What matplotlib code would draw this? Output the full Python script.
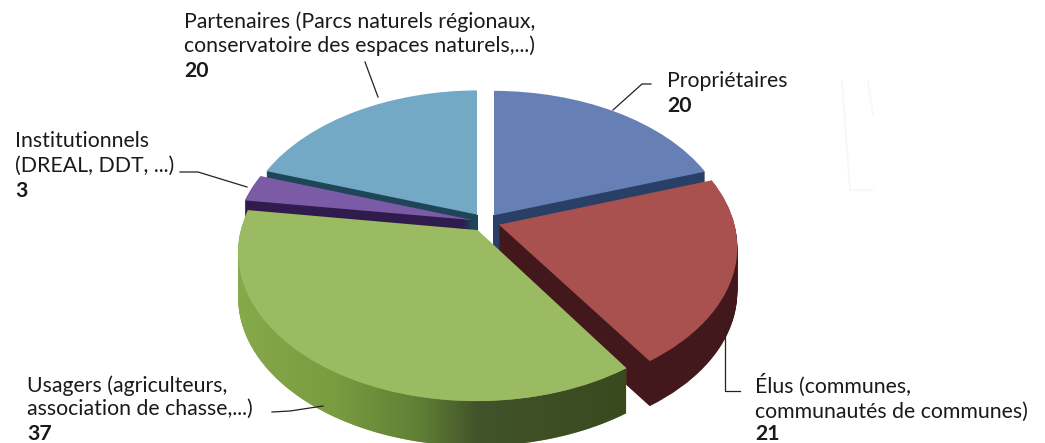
import numpy as np
import matplotlib
matplotlib.use("Agg")
import matplotlib.pyplot as plt
from matplotlib.colors import LinearSegmentedColormap
from matplotlib.patches import Polygon, Rectangle
from matplotlib.transforms import Affine2D, Transform

# slices, clockwise from 12 o'clock
values = [20, 21, 37, 3, 20]
explode = [0.058, 0.058, 0.066, 0.06, 0.063]
top_colors = ["#6680b6", "#a8514f", "#9bbb62", "#7b5aa6", "#73a9c4"]
wall_colors = ["#2a3f66", "#43181c", "#86a94a", "#2f1c4d", "#1f4558"]
draw_order = [0, 3, 4, 2, 1]  # zorder per slice, back to front-ish

CX, CY = 486, 222
DEPTH = 45


class Persp(Transform):
    # tilted disc seen in perspective, the front gets bigger than the back
    input_dims = output_dims = 2
    is_separable = False

    def transform_non_affine(self, values):
        v = np.asarray(values, dtype=float)
        w = 1 + 0.1429 * v[:, 1]
        return np.column_stack([235 * v[:, 0] / w, -144 * v[:, 1] / w])


plt.rcParams["font.family"] = ["Lato", "DejaVu Sans"]
fig = plt.figure(figsize=(10.45, 4.43), dpi=100)
ax = fig.add_axes([0, 0, 1, 1])


def to_pixels(depth=0):
    return Persp() + Affine2D().translate(CX, CY + depth)


# side wall is a stack of pies, then the top surface
for depth in range(DEPTH, -1, -1):
    colors = top_colors if depth == 0 else wall_colors
    wedges, _ = ax.pie(values, explode=explode, colors=colors, startangle=90,
                       counterclock=False, radius=1)
    for i, w in enumerate(wedges):
        w.set_transform(to_pixels(depth) + ax.transData)
        w.set_zorder(draw_order[i] + (0.5 if depth == 0 else 0))

ax.set_aspect("auto")
ax.set_axis_off()

# keep the white gap at 12 o'clock clean, both edges straight up
blue_apex = to_pixels().transform([wedges[0].center])[0]
lightblue_apex = to_pixels().transform([wedges[4].center])[0]
gap_bottom = min(blue_apex[1], lightblue_apex[1])
ax.add_patch(Rectangle((lightblue_apex[0], 80), blue_apex[0] - lightblue_apex[0], gap_bottom - 80,
                       facecolor="white", edgecolor="none", zorder=5.5))

# green wall goes from light on the left to dark on the right
g = wedges[2]
theta = np.radians(np.linspace(-180, g.theta2 if g.theta2 < 0 else g.theta2 - 360, 80))
arc = np.column_stack([g.center[0] + np.cos(theta), g.center[1] + np.sin(theta)])
arc_top = to_pixels().transform(arc)
wall_poly = np.vstack([arc_top, arc_top[::-1] + [0, DEPTH]])
cmap = LinearSegmentedColormap.from_list(
    "wall", [(0, "#86a94a"), (0.25, "#7a9b40"), (0.47, "#5f7f35"), (0.62, "#41532a"), (1, "#3a4a1f")])
im = ax.imshow(np.linspace(0, 1, 256)[None, :], cmap=cmap, extent=(238, 626, 443, 200),
               aspect="auto", zorder=draw_order[2] + 0.25)
im.set_clip_path(Polygon(wall_poly, transform=ax.transData))
ax.set_xlim(0, 1045)
ax.set_ylim(443, 0)

# leader lines
leaders = [
    ([613, 642, 651], [110, 84, 84]),
    ([378, 365], [97, 62]),
    ([180, 198, 247], [172, 172, 187]),
    ([272, 290, 323], [412, 411, 406]),
    ([725, 725, 740], [319, 391, 391]),
]
for lx, ly in leaders:
    ax.plot(lx, ly, color="#222222", lw=0.9, zorder=10)

# faint scan marks right of the pie
ax.plot([842, 850, 873], [82, 190, 190], color="#f3f8f7", lw=1.2, zorder=1)
ax.plot([868, 873], [82, 115], color="#f3f8f7", lw=1.2, zorder=1)

labels = [
    (667, 87, "Propriétaires", False),
    (667, 112, "20", True),
    (184, 28, "Partenaires (Parcs naturels régionaux,", False),
    (184, 52, "conservatoire des espaces naturels,...)", False),
    (184, 77, "20", True),
    (15, 147, "Institutionnels", False),
    (15, 172, "(DREAL, DDT, ...)", False),
    (15, 197, "3", True),
    (27, 392, "Usagers (agriculteurs,", False),
    (27, 415, "association de chasse,...)", False),
    (27, 440, "37", True),
    (755, 393, "Élus (communes,", False),
    (755, 418, "communautés de communes)", False),
    (755, 440, "21", True),
]
for x, y, s, bold in labels:
    ax.text(x, y, s, fontsize=15.3, color="#1a1a1a", va="baseline", ha="left",
            fontweight="bold" if bold else "normal", zorder=11)

fig.savefig("out.png", dpi=100)
